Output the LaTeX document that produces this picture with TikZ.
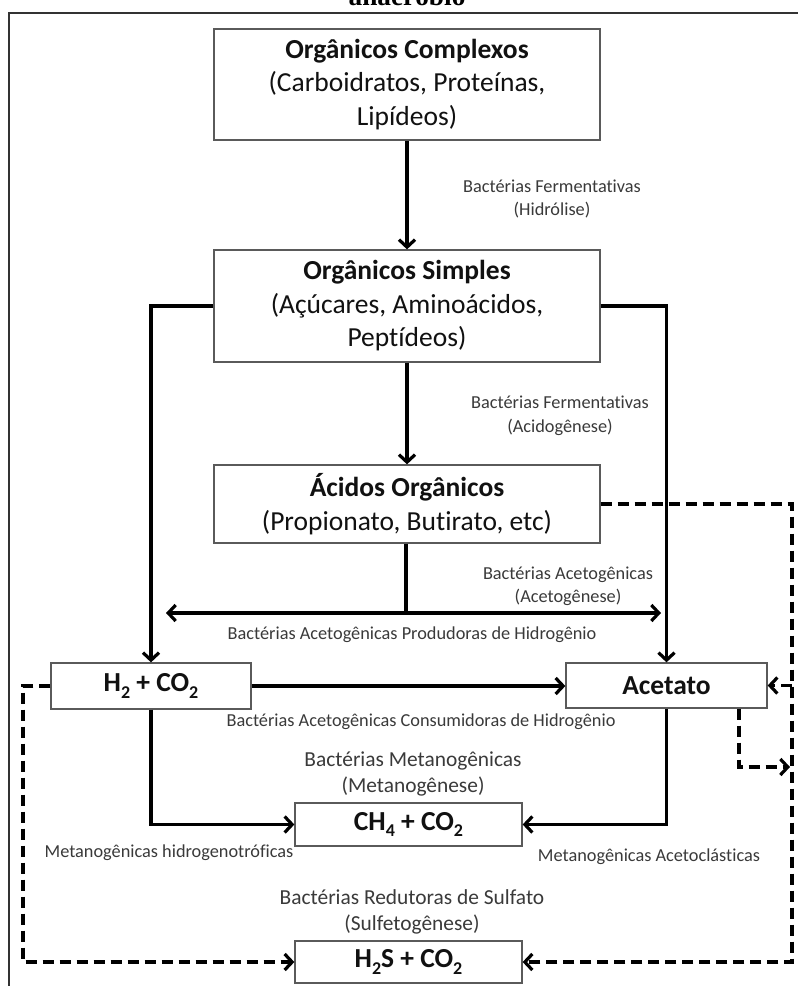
\documentclass[tikz,border=0pt]{standalone}
\usepackage{fontspec}
\setmainfont{Carlito}[Ligatures={NoCommon}]
\newfontfamily\titlefont{Liberation Serif}
\usetikzlibrary{arrows.meta}
\definecolor{boxline}{HTML}{5A5A5A}
\definecolor{lbl}{HTML}{3A3A3A}
\definecolor{ink}{HTML}{111111}
\newcommand\mysub[1]{\raisebox{-0.24em}{\fontsize{18}{18}\selectfont #1}}
\tikzset{
  box/.style={draw=boxline, line width=1.3pt, fill=white, inner sep=0pt, align=center, text=ink,
              font=\fontsize{27.5}{33.5}\selectfont},
  lbls/.style={align=center, text=lbl, inner sep=0pt, font=\fontsize{18.3}{23.5}\selectfont},
  lblm/.style={align=center, text=lbl, inner sep=0pt, font=\fontsize{21.4}{26.5}\selectfont},
  arr/.style={line width=3.2pt, draw=black, -{Straight Barb[length=7.5pt,width=16pt]}},
  arrtwo/.style={line width=3.2pt, draw=black, {Straight Barb[length=7.5pt,width=16pt]}-{Straight Barb[length=7.5pt,width=16pt]}},
  plain/.style={line width=3.2pt, draw=black},
  darr/.style={line width=3.2pt, draw=black, dash pattern=on 11pt off 6pt, -{Straight Barb[length=7.5pt,width=16pt]}},
  frame/.style={draw=black!80, line width=1.5pt}
}
\begin{document}
\begin{tikzpicture}[x=1pt,y=-1pt]
\useasboundingbox (0,0) rectangle (798,986);
\clip (0,0) rectangle (798,986);
\fill[white] (0,0) rectangle (798,986);
% title (cut off at the top edge, as in the reference)
\node[anchor=base, inner sep=0pt, font=\titlefont\bfseries\fontsize{27.3}{30}\selectfont] (title) at (407,5) {anaeróbio};
% frame
\draw[frame] (9,13) rectangle (830,1010);
% boxes
\node[box, minimum width=386pt, minimum height=111pt] (b1) at (407,84.5)
  {{\bfseries Orgânicos Complexos}\\(Carboidratos, Proteínas,\\Lipídeos)};
\node[box, minimum width=386pt, minimum height=112pt] (b2) at (407,306)
  {{\bfseries Orgânicos Simples}\\(Açúcares, Aminoácidos,\\Peptídeos)};
\node[box, minimum width=386pt, minimum height=78pt] (b3) at (407,504)
  {{\bfseries Ácidos Orgânicos}\\(Propionato, Butirato, etc)};
\node[box, minimum width=200pt, minimum height=46pt, font=\bfseries\fontsize{27.5}{33.5}\selectfont] (h2) at (151,686)
  {H\mysub{2} + CO\mysub{2}};
\node[box, minimum width=201pt, minimum height=45pt, font=\bfseries\fontsize{27.5}{33.5}\selectfont] (ac) at (666.5,685.5)
  {Acetato};
\node[box, minimum width=227pt, minimum height=43pt, font=\bfseries\fontsize{27.5}{33.5}\selectfont] (ch4) at (408.5,824.5)
  {CH\mysub{4} + CO\mysub{2}};
\node[box, minimum width=227pt, minimum height=42pt, font=\bfseries\fontsize{27.5}{33.5}\selectfont] (h2s) at (408.5,962)
  {H\mysub{2}S + CO\mysub{2}};
% coordinates
\coordinate (jn) at (406,613);
\coordinate (lt) at (166,613);
\coordinate (rt) at (661,613);
\coordinate (rtop) at (792,504);
\coordinate (rbot) at (792,962);
\coordinate (ad) at (739,767);
\coordinate (lc) at (23,686);
% solid connectors
\draw[arr] (b1) -- (b2);
\draw[arr] (b2) -- (b3);
\draw[arr] (b2.west) -| (h2.north);
\draw[arr] (b2.east) -| (ac.north);
\draw[plain] (b3.south -| jn) -- (jn);
\draw[arrtwo] (lt) -- (rt);
\draw[arr] (h2.east) -- (h2.east -| ac.west);
\draw[arr] (h2.south) |- (ch4.west);
\draw[arr] (ac.south) |- (ch4.east);
% dashed connectors
\draw[darr] (b3.east |- rtop) -- (rtop) -- (rbot) -- (h2s.east);
\draw[darr] (ac.east -| rtop) -- (ac.east);
\draw[darr] (ac.south -| ad) -- (ad) -- ([xshift=-2pt]ad -| rtop);
\draw[darr] (h2.west) -- (lc) |- (h2s.west);
% labels
\node[lbls] (l1) at (552,199) {Bactérias Fermentativas\\(Hidrólise)};
\node[lbls] (l2) at (560,416) {Bactérias Fermentativas\\(Acidogênese)};
\node[lbls] (l3) at (568,586.5) {Bactérias Acetogênicas\\(Acetogênese)};
\node[lbls] (l4) at (412,635) {Bactérias Acetogênicas Produdoras de Hidrogênio};
\node[lbls] (l5) at (421,722) {Bactérias Acetogênicas Consumidoras de Hidrogênio};
\node[lblm] (l6) at (413,774) {Bactérias Metanogênicas\\(Metanogênese)};
\node[lbls] (l7) at (169,852.5) {Metanogênicas hidrogenotróficas};
\node[lbls] (l8) at (649,857) {Metanogênicas Acetoclásticas};
\node[lblm] (l9) at (412,912) {Bactérias Redutoras de Sulfato\\(Sulfetogênese)};
\end{tikzpicture}
\end{document}
